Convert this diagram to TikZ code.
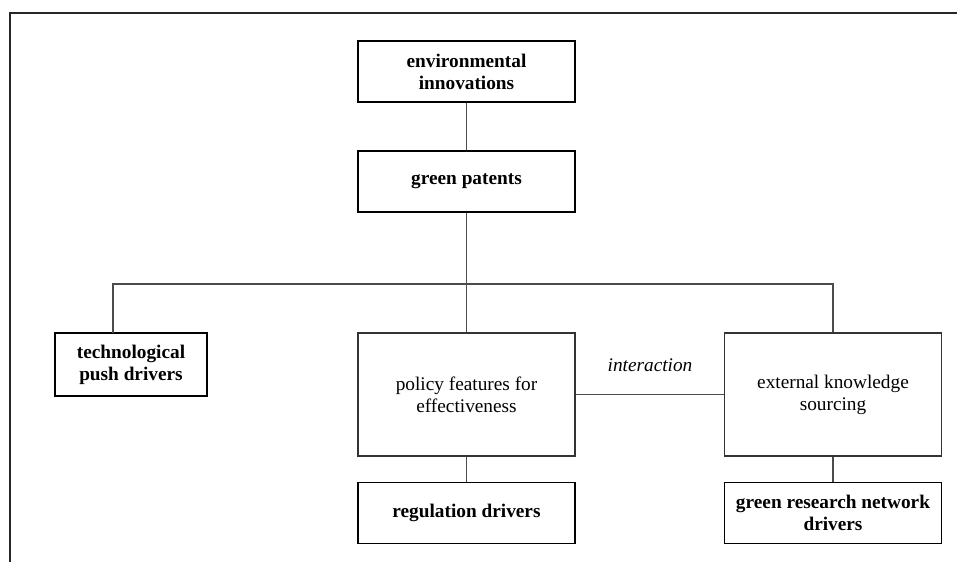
\documentclass[tikz,border=0pt]{standalone}
\usepackage{fontspec}
\setmainfont{Liberation Serif}
\usepackage{tikz}
\tikzset{>=latex}
\tikzset{
  drivbox/.style={draw=black, line width=1.8pt, align=center, inner sep=0pt,
    font=\fontsize{19.3}{22}\selectfont\bfseries},
  featbox/.style={draw=black!80, line width=1.2pt, align=center, inner sep=0pt,
    font=\fontsize{19.3}{22}\selectfont, minimum width=217pt, minimum height=123pt},
  link/.style={draw=black!70, line width=1.2pt}
}

\begin{document}
\begin{tikzpicture}[x=1pt,y=-1pt]
                    \useasboundingbox (0,0) rectangle (957,562);
                    \draw[line width=2pt, black!85] (10,562) -- (10,12.5) -- (957,12.5);
                    % top of the tree
                    \node[drivbox, minimum width=217pt, minimum height=61pt] (env) at (466.5,71.5) {environmental\\innovations};
                    \node[drivbox, minimum width=217pt, minimum height=61pt] (gp) at (466.5,181.5) {green patents};
                    \coordinate (split) at (466.5,284);
                    % middle row
                    \node[drivbox, minimum width=152pt, minimum height=63pt] (tech) at (131,364.5) {technological\\push drivers};
                    \coordinate (techtop) at (113,333);
                    \node[featbox] (pol) at (466.5,394.5) {policy features for\\effectiveness};
                    \node[featbox] (ext) at (833,394.5) {external knowledge\\sourcing};
                    % bottom row
                    \node[drivbox, minimum width=217pt, minimum height=61pt] (reg) at (466.5,513) {regulation drivers};
                    \node[drivbox, minimum width=217pt, minimum height=61pt] (net) at (833,513) {green research network\\drivers};
                    \node[font=\fontsize{19.3}{22}\selectfont\itshape] (inter) at (650,365) {interaction};
                    % connectors
                    \draw[link] (env) -- (gp);
                    \draw[link] (gp) -- (split);
                    \draw[link] (techtop) |- (split) -| (ext.north);
                    \draw[link] (split) -- (pol);
                    \draw[link] (pol) -- (ext);
                    \draw[link] (pol) -- (reg);
                    \draw[link] (ext) -- (net);
                    \end{tikzpicture}
\end{document}
